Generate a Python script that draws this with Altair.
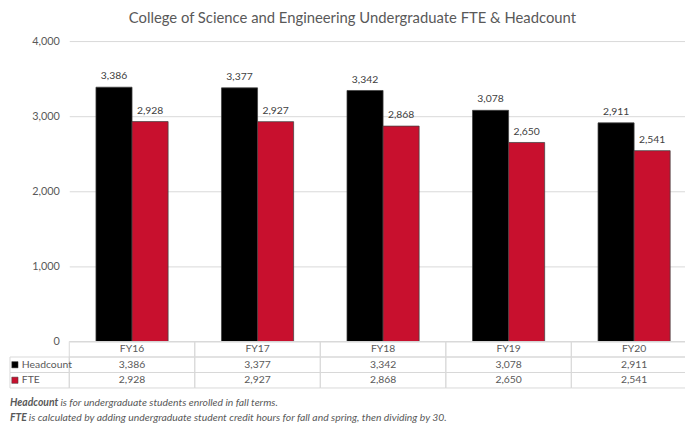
import altair as alt
import pandas as pd

categories = ["FY16", "FY17", "FY18", "FY19", "FY20"]
series = ["Headcount", "FTE"]
headcount = [3386, 3377, 3342, 3078, 2911]
fte = [2928, 2927, 2868, 2650, 2541]
colors = ["#000000", "#C8102E"]
title_text = "College of Science and Engineering Undergraduate FTE & Headcount"
y_ticks = [0, 1000, 2000, 3000, 4000]
note_bold = ["Headcount", "FTE"]
note_rest = ["is for undergraduate students enrolled in fall terms.",
             "is calculated by adding undergraduate student credit hours for fall and spring, then dividing by 30."]

FONT = "Lato"
GRAY = "#595959"
W, H, PLOT_H, STEP = 623, 351, 304, 127

rows = []
for i, c in enumerate(categories):
    rows.append({"category": c, "series": "Headcount", "value": headcount[i], "label": f"{headcount[i]:,}"})
    rows.append({"category": c, "series": "FTE", "value": fte[i], "label": f"{fte[i]:,}"})
df = pd.DataFrame(rows)

row_domain = ["hdr"] + series
cells = pd.DataFrame([{"category": c, "row": r} for c in categories for r in row_domain])
table_text = pd.DataFrame(
    [{"category": c, "row": "hdr", "text": c} for c in categories]
    + [{"category": r["category"], "row": r["series"], "text": r["label"]} for r in rows]
)
legend_df = pd.DataFrame({"row": series, "series": series})

x_scale = alt.Scale(domain=categories, range=[0, STEP * 5], paddingInner=0, paddingOuter=0)
xoff_scale = alt.Scale(domain=series, paddingInner=0, paddingOuter=0.74)
y_bar = alt.Scale(domain=[0, 4000], range=[PLOT_H, 0])
y_tab = alt.Scale(domain=row_domain, range=[PLOT_H, H], paddingInner=0, paddingOuter=0)
color_scale = alt.Scale(domain=series, range=colors)

bars = alt.Chart(df).mark_bar(stroke="#404040", strokeWidth=0.75).encode(
    x=alt.X("category:N", scale=x_scale, axis=None),
    xOffset=alt.XOffset("series:N", scale=xoff_scale),
    y=alt.Y("value:Q", scale=y_bar,
            axis=alt.Axis(values=y_ticks, format=",.0f", grid=True, gridColor="#d9d9d9",
                          domain=False, ticks=False, labelPadding=10, labelFontSize=11,
                          labelColor=GRAY, labelFont=FONT, title=None)),
    color=alt.Color("series:N", scale=color_scale, legend=None),
)

labels = alt.Chart(df).mark_text(baseline="bottom", dy=-6, fontSize=10.5, color="#404040", font=FONT).encode(
    x=alt.X("category:N", scale=x_scale, axis=None),
    xOffset=alt.XOffset("series:N", scale=xoff_scale),
    y=alt.Y("value:Q", scale=y_bar, axis=None),
    text="label:N",
)

cell_rects = alt.Chart(cells).mark_rect(fill="transparent", stroke="#d9d9d9", strokeWidth=1).encode(
    x=alt.X("category:N", scale=x_scale, axis=None),
    y=alt.Y("row:N", scale=y_tab, axis=None),
)

cell_text = alt.Chart(table_text).mark_text(fontSize=10.5, color=GRAY, font=FONT).encode(
    x=alt.X("category:N", scale=x_scale, axis=None),
    y=alt.Y("row:N", scale=y_tab, axis=None),
    text="text:N",
)

leg_rects = alt.Chart(legend_df).mark_rect(fill="transparent", stroke="#d9d9d9", strokeWidth=1).encode(
    x=alt.value(-60), x2=alt.value(0),
    y=alt.Y("row:N", scale=y_tab, axis=None),
)
leg_sq = alt.Chart(legend_df).mark_square(size=40, opacity=1, stroke="#404040", strokeWidth=0.5).encode(
    x=alt.value(-55),
    y=alt.Y("row:N", scale=y_tab, axis=None),
    color=alt.Color("series:N", scale=color_scale, legend=None),
)
leg_text = alt.Chart(legend_df).mark_text(align="left", fontSize=10.5, color=GRAY, font=FONT).encode(
    x=alt.value(-48),
    y=alt.Y("row:N", scale=y_tab, axis=None),
    text="row:N",
)

note_df = pd.DataFrame({"bold": note_bold, "rest": note_rest})
notes = []
note_y = [366, 381]
rest_x = [-9, -41]
for i in range(2):
    d = note_df.iloc[[i]]
    notes.append(alt.Chart(d).mark_text(align="left", baseline="middle", fontSize=10.5, fontStyle="italic",
                                        fontWeight="bold", color=GRAY, font=FONT).encode(
        x=alt.value(-60), y=alt.value(note_y[i]), text="bold:N"))
    notes.append(alt.Chart(d).mark_text(align="left", baseline="middle", fontSize=10.5, fontStyle="italic",
                                        color=GRAY, font=FONT).encode(
        x=alt.value(rest_x[i]), y=alt.value(note_y[i]), text="rest:N"))

chart = alt.layer(bars, labels, cell_rects, cell_text, leg_rects, leg_sq, leg_text, *notes).resolve_scale(
    y="independent"
).properties(
    width=W, height=H,
    title=alt.Title(title_text, fontSize=15, font=FONT, color=GRAY, fontWeight="normal",
                    anchor="middle", dx=-25, offset=9),
    autosize=alt.AutoSizeParams(type="none"),
    padding={"left": 62, "top": 31, "right": 0, "bottom": 35},
).configure_view(strokeWidth=0)

chart.save("out.html", embed_options={"renderer": "svg", "actions": False})
